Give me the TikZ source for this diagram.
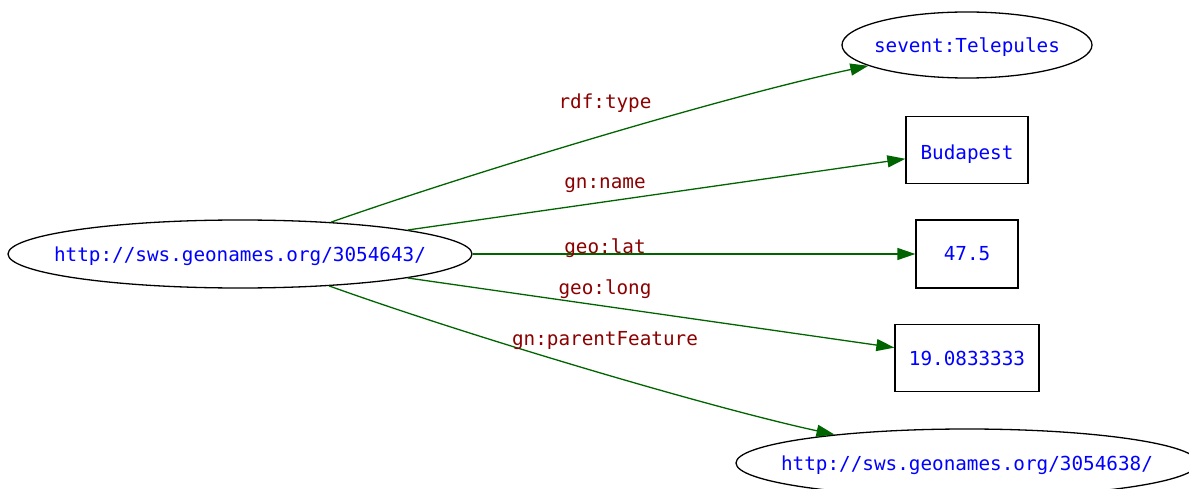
\documentclass[tikz,border=0pt]{standalone}
\usepackage{fontspec}
\setmonofont{DejaVu Sans Mono}
\usetikzlibrary{shapes.geometric,arrows.meta}
\definecolor{edgegreen}{RGB}{0,100,0}
\definecolor{lblred}{RGB}{139,0,0}
\definecolor{txtblue}{RGB}{0,0,255}
\begin{document}
\begin{tikzpicture}[x=1pt,y=-1pt,
  font=\ttfamily\fontsize{19.3}{23}\selectfont,
  ell/.style={ellipse,draw=black,line width=1.3pt,inner sep=0pt},
  boxnode/.style={rectangle,draw=black,line width=1.3pt,inner sep=0pt,text=txtblue},
  lbl/.style={text=lblred,inner sep=0pt},
  edge/.style={draw=edgegreen,line width=1.3pt,-{Triangle[length=18pt,width=12pt]}}]
\useasboundingbox (0,0) rectangle (1189,489);
\node[ell,minimum width=464pt,minimum height=68pt,label={[text=txtblue,yshift=-2pt]center:http://sws.geonames.org/3054643/}] (main) at (240,254) {};
\node[ell,minimum width=250pt,minimum height=66pt,label={[text=txtblue,yshift=-2pt]center:sevent:Telepules}] (tele) at (967,45) {};
\node[boxnode,minimum width=122pt,minimum height=67pt,text depth=0pt] (buda) at (967,150) {\raisebox{-4pt}{Budapest}};
\node[boxnode,minimum width=102pt,minimum height=68pt] (lat) at (967,254) {\raisebox{-2pt}{47.5}};
\node[boxnode,minimum width=144pt,minimum height=67pt] (long) at (967,358) {\raisebox{-2pt}{19.0833333}};
\node[ell,minimum width=462pt,minimum height=68pt,label={[text=txtblue,yshift=-2pt]center:http://sws.geonames.org/3054638/}] (parent) at (967,463) {};
\draw[edge] (main) .. controls (480,170) and (730,95) .. (tele);
\draw[edge] (main) -- (buda);
\draw[edge] (main) -- (lat);
\draw[edge] (main) -- (long);
\draw[edge] (main) .. controls (480,340) and (720,410) .. (parent);
\node[lbl] (l1) at (605,103) {rdf:type};
\node[lbl] (l2) at (605,185) {gn:name};
\node[lbl] (l3) at (605,248) {geo:lat};
\node[lbl] (l4) at (605,289) {geo:long};
\node[lbl] (l5) at (605,341) {gn:parentFeature};
\end{tikzpicture}
\end{document}
